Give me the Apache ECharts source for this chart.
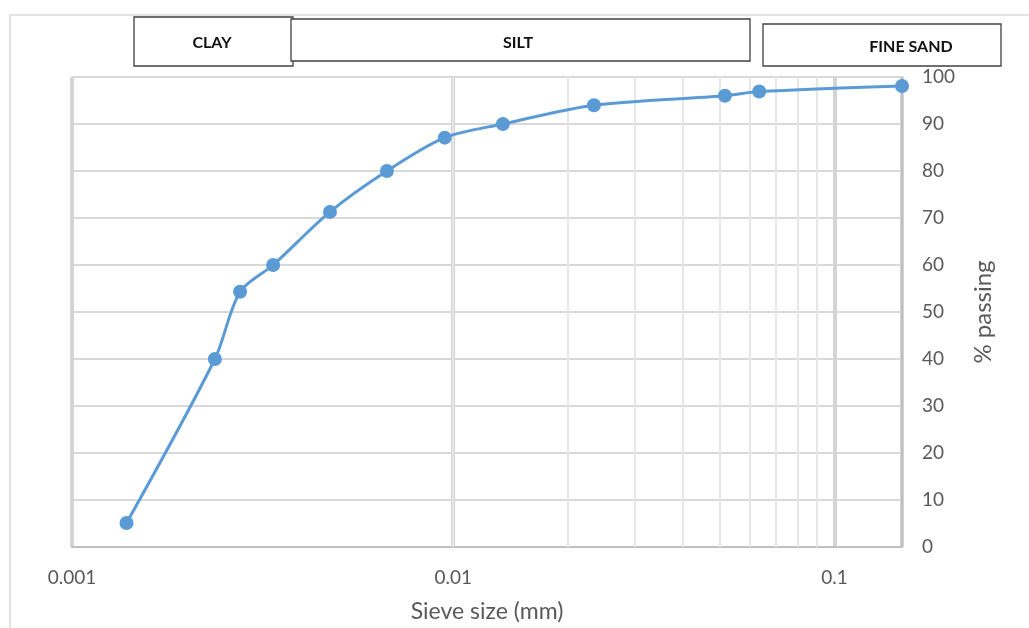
<!DOCTYPE html>
<html><head><meta charset="utf-8">
<script src="https://cdn.jsdelivr.net/npm/echarts@6/dist/echarts.min.js"></script>
<style>html,body{margin:0;padding:0;background:#fff}#c{width:1029px;height:628px}</style>
</head><body><div id="c"></div>
<script>
const sieveSize = [0.00139, 0.00237, 0.00276, 0.00337, 0.00475, 0.0067, 0.0095, 0.0135, 0.0234, 0.0516, 0.0635, 0.1504];
const passing = [5.1, 40, 54.3, 60, 71.3, 80, 87.1, 90, 94, 96, 96.9, 98.1];
const minorTicks = [0.002,0.003,0.004,0.005,0.006,0.007,0.008,0.009,0.02,0.03,0.04,0.05,0.06,0.07,0.08,0.09];
const xTickLabels = ['0.001','0.01','0.1'];
const soilBands = ['CLAY','SILT','FINE SAND'];

const FONT = 'Lato, "Open Sans", sans-serif';
const chart = echarts.init(document.getElementById('c'));
function box(label, x, y, w, h, tx, ty) {
  return {type:'group', children:[
    {type:'rect', shape:{x:x, y:y, width:w, height:h}, style:{fill:'#fff', stroke:'#404040', lineWidth:1.3}},
    {type:'text', x:tx, y:ty, style:{text:label, font:'bold 16px ' + FONT, fill:'#111', textAlign:'center', textVerticalAlign:'middle'}}
  ]};
}
chart.setOption({
  animation:false,
  grid:{left:72, right:127, top:77, bottom:81, outerBoundsMode:'none', containLabel:false},
  graphic:[
    {type:'rect', shape:{x:10, y:15, width:1040, height:640}, style:{fill:'none', stroke:'#d9d9d9', lineWidth:1.5}, z:-10},
    box(soilBands[0], 134, 17, 159, 49, 212, 43),
    box(soilBands[1], 291, 19, 459, 42, 518, 43),
    box(soilBands[2], 763, 24, 238, 42, 911, 47)
  ],
  xAxis:{
    type:'log', logBase:10, min:0.001, max:0.1504,
    name:'Sieve size (mm)', nameLocation:'middle', nameGap:53,
    nameTextStyle:{color:'#595959', fontSize:23, fontFamily:FONT},
    axisLine:{show:true, lineStyle:{color:'#bfbfbf', width:2}},
    axisTick:{show:false},
    axisLabel:{color:'#595959', fontSize:19, fontFamily:FONT, margin:21,
      formatter:function(v){ const s = xTickLabels.find(t => Math.abs(parseFloat(t)-v)/v < 1e-6); return s || ''; }},
    splitLine:{show:true, lineStyle:{color:'#d4d4d4', width:4}}
  },
  yAxis:{
    type:'value', position:'right', min:0, max:100, interval:10,
    name:'% passing', nameLocation:'middle', nameGap:69, nameRotate:90,
    nameTextStyle:{color:'#595959', fontSize:24, fontFamily:FONT},
    axisLine:{show:true, lineStyle:{color:'#bfbfbf', width:2}},
    axisTick:{show:false},
    axisLabel:{color:'#595959', fontSize:19, fontFamily:FONT, margin:20},
    splitLine:{show:true, lineStyle:{color:'#d9d9d9', width:2}}
  },
  series:[
    {type:'line', data:minorTicks.map(v=>[v, null]), silent:true, symbol:'none',
      markLine:{silent:true, symbol:['none','none'], label:{show:false},
        lineStyle:{color:'#e6e6e6', width:2, type:'solid'},
        data:minorTicks.map(v=>({xAxis:v}))}, z:1},
    {type:'line', data:sieveSize.map((x,i)=>[x, passing[i]]), smooth:0.3,
      symbol:'circle', symbolSize:14, clip:false,
      lineStyle:{color:'#5b9bd5', width:3}, itemStyle:{color:'#5b9bd5'}, z:5}
  ]
});
</script></body></html>
